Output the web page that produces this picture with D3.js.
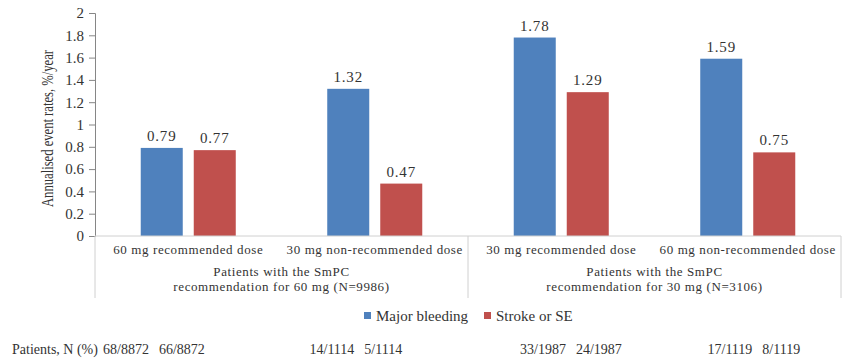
<!DOCTYPE html>
<html>
<head>
<meta charset="utf-8">
<script src="https://cdn.jsdelivr.net/npm/d3@7"></script>
<style>
  body { margin: 0; background: #fff; }
  text { font-family: "Liberation Serif", "Times New Roman", serif; fill: #333; }
</style>
</head>
<body>
<script>
// chart data
var categories = ["60 mg recommended dose", "30 mg non-recommended dose",
                  "30 mg recommended dose", "60 mg non-recommended dose"];
var series = ["Major bleeding", "Stroke or SE"];
var majorBleeding = [0.79, 1.32, 1.78, 1.59];
var strokeSE = [0.77, 0.47, 1.29, 0.75];
var groups = [["Patients with the SmPC", "recommendation for 60 mg (N=9986)"],
              ["Patients with the SmPC", "recommendation for 30 mg (N=3106)"]];
var patientsBleeding = ["68/8872", "14/1114", "33/1987", "17/1119"];
var patientsStroke = ["66/8872", "5/1114", "24/1987", "8/1119"];
var yTicks = [0, 0.2, 0.4, 0.6, 0.8, 1, 1.2, 1.4, 1.6, 1.8, 2];

var w = 850, h = 361;
var plotLeft = 95, plotRight = 841, plotTop = 13, plotBottom = 236;

var svg = d3.select("body").append("svg")
    .attr("width", w)
    .attr("height", h);

var x = d3.scaleBand().domain(categories).range([plotLeft, plotRight]).padding(0);
var xs = d3.scaleBand().domain(series).range([0, x.bandwidth()])
    .paddingInner(0.2075).paddingOuter(0.863);
var y = d3.scaleLinear().domain([0, 2]).range([plotBottom, plotTop]);
var color = d3.scaleOrdinal().domain(series).range(["#4F81BD", "#C0504D"]);

// bars
var rows = categories.map(function(c, i){
    return {cat: c, values: [{s: series[0], v: majorBleeding[i]}, {s: series[1], v: strokeSE[i]}]};
});

var g = svg.selectAll(".cat")
    .data(rows)
    .enter().append("g")
    .attr("transform", function(d){ return "translate(" + x(d.cat) + ",0)"; });

g.selectAll("rect")
    .data(function(d){ return d.values; })
    .enter().append("rect")
    .attr("x", function(d){ return xs(d.s); })
    .attr("y", function(d){ return y(d.v); })
    .attr("width", xs.bandwidth())
    .attr("height", function(d){ return y(0) - y(d.v); })
    .style("fill", function(d){ return color(d.s); });

g.selectAll(".val")
    .data(function(d){ return d.values; })
    .enter().append("text")
    .attr("x", function(d){ return xs(d.s) + xs.bandwidth() / 2; })
    .attr("y", function(d){ return y(d.v) - 7; })
    .attr("text-anchor", "middle")
    .style("font-size", "15px")
    .style("letter-spacing", "0.8px")
    .text(function(d){ return d.v.toFixed(2); });

// y axis
var yAxis = svg.append("g")
    .attr("transform", "translate(" + plotLeft + ",0)")
    .call(d3.axisLeft(y).tickValues(yTicks).tickSize(6).tickPadding(5)
        .tickFormat(function(d){ return String(d); }));
yAxis.selectAll("path, line").style("stroke", "#868686");
yAxis.selectAll("text")
    .style("font-size", "15px")
    .style("font-family", "Liberation Serif, serif")
    .style("fill", "#333");

svg.append("text")
    .attr("transform", "translate(53," + ((plotTop + plotBottom) / 2 + 4) + ") rotate(-90)")
    .attr("text-anchor", "middle")
    .attr("textLength", 157)
    .attr("lengthAdjust", "spacingAndGlyphs")
    .style("font-size", "16.5px")
    .text("Annualised event rates, %/year");

// x axis line and group separators
svg.append("line")
    .attr("x1", plotLeft).attr("x2", plotRight)
    .attr("y1", plotBottom).attr("y2", plotBottom)
    .style("stroke", "#d0d0d0");

[0, 2, 4].forEach(function(i){
    var xx = i < 4 ? x(categories[i]) : plotRight;
    svg.append("line")
        .attr("x1", xx).attr("x2", xx)
        .attr("y1", plotBottom).attr("y2", 298)
        .style("stroke", "#d0d0d0");
});

svg.selectAll(".catlabel")
    .data(categories)
    .enter().append("text")
    .attr("x", function(d){ return x(d) + x.bandwidth() / 2; })
    .attr("y", 254)
    .attr("text-anchor", "middle")
    .style("font-size", "13px")
    .style("letter-spacing", "0.6px")
    .text(function(d){ return d; });

groups.forEach(function(lines, i){
    var cx = x(categories[i * 2]) + x.bandwidth();
    lines.forEach(function(t, j){
        svg.append("text")
            .attr("x", cx)
            .attr("y", 276 + j * 14.5)
            .attr("text-anchor", "middle")
            .style("font-size", "13px")
            .style("letter-spacing", "0.6px")
            .text(t);
    });
});

// legend
var legend = svg.append("g").attr("transform", "translate(364,316)");
var lx = [0, 120];
series.forEach(function(s, i){
    legend.append("rect")
        .attr("x", lx[i]).attr("y", -4)
        .attr("width", 7).attr("height", 7)
        .style("fill", color(s));
    legend.append("text")
        .attr("x", lx[i] + 12).attr("y", 5)
        .style("font-size", "15px")
        .text(s);
});

// patient counts row
svg.append("text")
    .attr("x", 12).attr("y", 354)
    .style("font-size", "14px")
    .text("Patients, N (%)");

var countOffset = [8, 28, 52, 53];
svg.selectAll(".count")
    .data(categories)
    .enter().append("text")
    .attr("x", function(d, i){ return x(d) + countOffset[i]; })
    .attr("y", 354)
    .style("font-size", "14px")
    .each(function(d, i){
        var t = d3.select(this);
        t.append("tspan").text(patientsBleeding[i]);
        t.append("tspan").attr("dx", 10).text(patientsStroke[i]);
    });
</script>
</body>
</html>
